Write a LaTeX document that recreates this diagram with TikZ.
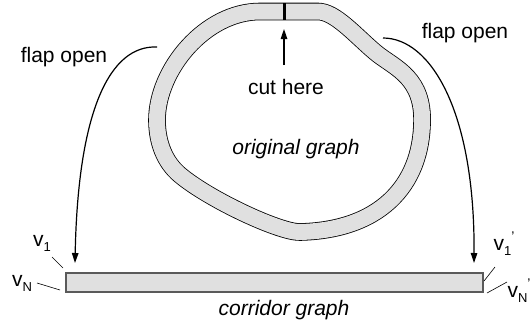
\documentclass[tikz,border=0pt]{standalone}
\usepackage{fontspec}
\setmainfont{Liberation Sans}
\usetikzlibrary{arrows.meta}
\definecolor{bandgray}{HTML}{E0E0E0}
\definecolor{edgegray}{HTML}{5A5A5A}
\newcommand{\subone}{\raisebox{-0.45ex}{\fontsize{13}{13}\selectfont 1}}
\newcommand{\subN}{\raisebox{-0.45ex}{\fontsize{13}{13}\selectfont N}}
\newcommand{\prm}{\raisebox{0.8ex}{\fontsize{14}{14}\selectfont ’}}
\begin{document}
\begin{tikzpicture}[x=1pt,y=-1pt,
  font=\fontsize{21}{25}\selectfont,
  lbl/.style={inner sep=0pt},
  arr/.style={line width=1.2pt,-{Triangle[length=10pt,width=6.5pt]}},
  tick/.style={line width=0.6pt}]
\useasboundingbox (0,0) rectangle (532,330);
% ring (original graph)
\draw[line width=0.8pt,double=bandgray,double distance=16pt]
  (284,11.5) -- (318,11.5)
  .. controls (335,11.5) and (355,35) .. (375,52)
  .. controls (392,66.5) and (420,75) .. (422,115)
  .. controls (424,180) and (385,230) .. (300,232)
  .. controls (280,232.5) and (210,200) .. (180,175)
  .. controls (165,162.5) and (157,143) .. (157,120)
  .. controls (157,70) and (205,11.5) .. (260,11.5)
  -- cycle;
\draw[line width=3pt] (284,3) -- (284,20);
% cut here
\node[lbl] (cut) at (286,87) {cut here};
\coordinate (cutbase) at (284,65);
\coordinate (cuttip) at (284,29);
\draw[arr] (cutbase) -- (cuttip);
\node[lbl] (orig) at (296,149) {\itshape original graph};
% corridor
\node[draw=edgegray,fill=bandgray,line width=1.3pt,minimum width=417pt,
  minimum height=19pt,inner sep=0pt] (corr) at (274.5,282.5) {};
\node[lbl] (corrlbl) at (284,310) {\itshape corridor graph};
% flaps
\node[lbl] (flapL) at (64,57) {flap open};
\node[lbl] (flapR) at (465,33) {flap open};
\coordinate (fLs) at (157,47);
\coordinate (fLe) at (75,263);
\coordinate (fRs) at (383,38);
\coordinate (fRe) at (474,263);
\draw[arr] (fLs) .. controls (110,45) and (78,110) .. (fLe);
\draw[arr] (fRs) .. controls (430,38) and (475,110) .. (fRe);
% vertex labels
\node[lbl] (v1) at (42,243) {v\subone};
\node[lbl] (vN) at (22,283) {v\subN};
\node[lbl] (v1p) at (504,244) {v\subone\prm};
\node[lbl] (vNp) at (519,291) {v\subN\prm};
\coordinate (v1a) at (52,257);
\coordinate (v1b) at (63,268);
\coordinate (vNa) at (37,283);
\coordinate (vNb) at (60,290);
\coordinate (v1pa) at (484,281);
\coordinate (v1pb) at (495,267);
\coordinate (vNpa) at (487,293);
\coordinate (vNpb) at (507,282);
\draw[tick] (v1a) -- (v1b);
\draw[tick] (vNa) -- (vNb);
\draw[tick] (v1pa) -- (v1pb);
\draw[tick] (vNpa) -- (vNpb);
\end{tikzpicture}
\end{document}
